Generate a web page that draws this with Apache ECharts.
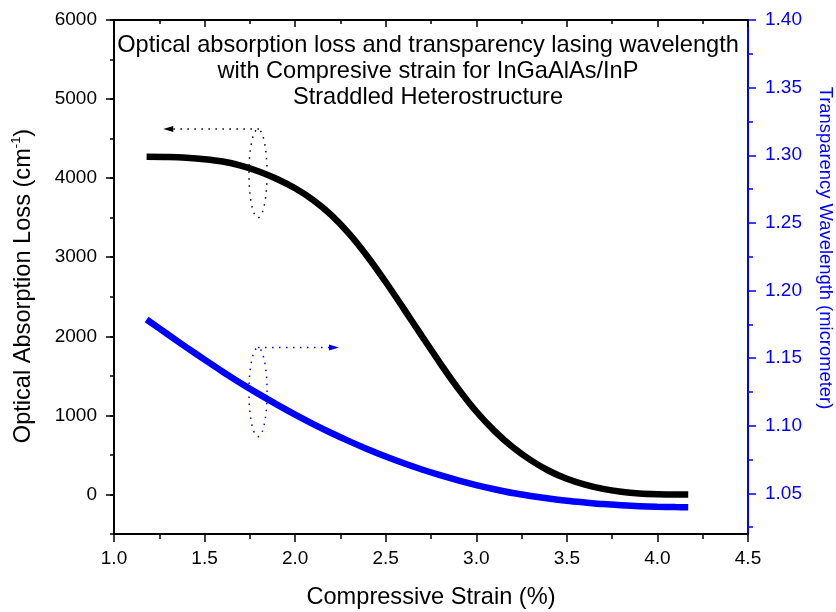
<!DOCTYPE html>
<html><head><meta charset="utf-8">
<script src="https://cdn.jsdelivr.net/npm/echarts@6/dist/echarts.min.js"></script>
<style>html,body{margin:0;padding:0;background:#fff}#c{width:836px;height:612px}</style>
</head><body><div id="c"></div>
<script>
// ---- data ----
const strain = [1.18,1.3,1.4,1.5,1.6,1.7,1.8,1.9,2.0,2.1,2.2,2.3,2.4,2.5,2.6,2.7,2.8,2.9,3.0,3.1,3.2,3.3,3.4,3.5,3.6,3.7,3.8,3.9,4.0,4.1,4.17];
const absorptionLoss = [4270,4267,4258,4240,4210,4158,4085,3990,3872,3722,3532,3292,3007,2687,2347,2002,1662,1339,1049,804,599,434,300,198,124,70,34,12,3,0,0];
const transparencyWavelength = [1.1786,1.1673,1.1580,1.1489,1.1400,1.1315,1.1234,1.1157,1.1083,1.1013,1.0947,1.0885,1.0827,1.0773,1.0723,1.0677,1.0635,1.0597,1.0562,1.0531,1.0503,1.0481,1.0462,1.0446,1.0433,1.0421,1.0412,1.0405,1.0401,1.0399,1.0398];
const leftTicks = [0,1000,2000,3000,4000,5000,6000];
const rightTicks = [1.05,1.10,1.15,1.20,1.25,1.30,1.35,1.40];
const rightMinorTicks = [1.025,1.075,1.125,1.175,1.225,1.275,1.325,1.375];
const titleLines = ['Optical absorption loss and transparency lasing wavelength','with Compresive strain for InGaAlAs/InP','Straddled Heterostructure'];
const xName = 'Compressive Strain (%)';
const leftName = '{a|Optical Absorption Loss (cm}{s|-1}{a|)}';
const rightName = 'Transparency Wavelength (micrometer)';
// annotation marks in data coordinates
const lossArrow = [[1.80,4622],[1.272,4622]];
const lossLoop = {center:[1.795,4060], radius:[0.05,560]};
const waveArrow = [[1.795,1.1578],[2.242,1.1578]];
const waveLoop = {center:[1.795,1.1249], radius:[0.05,0.0329]};

const FF = '"Liberation Sans", Arial, sans-serif';
const BLUE = '#0000ff';
const chart = echarts.init(document.getElementById('c'), null, {renderer:'canvas'});

const option = {
  animation:false,
  backgroundColor:'#fff',
  textStyle:{fontFamily:FF},
  title:{text:titleLines.join('\n'), left:428, top:32, padding:0, textAlign:'center',
    textStyle:{fontSize:23.6, fontWeight:'normal', color:'#000', fontFamily:FF, lineHeight:26}},
  grid:{left:114, right:88, top:20, bottom:78, containLabel:false, outerBoundsMode:'none'},
  xAxis:[
    {type:'value', position:'bottom', min:1, max:4.5, interval:0.5,
     name:xName, nameLocation:'middle', nameGap:51, nameMoveOverlap:false,
     nameTextStyle:{fontSize:23.6, color:'#000', fontFamily:FF},
     axisLine:{show:true, onZero:false, lineStyle:{color:'#000', width:2}},
     axisTick:{show:true, inside:false, length:8, lineStyle:{color:'#000', width:1.5}},
     minorTick:{show:true, splitNumber:2, length:5, lineStyle:{color:'#000', width:1.5}},
     axisLabel:{show:true, fontSize:19, color:'#000', margin:15, fontFamily:FF, formatter:v=>v.toFixed(1)},
     splitLine:{show:false}, minorSplitLine:{show:false}},
    {type:'value', position:'top', min:1, max:4.5, interval:0.5,
     axisLine:{show:true, onZero:false, lineStyle:{color:'#000', width:2}},
     axisTick:{show:true, inside:true, length:7, lineStyle:{color:'#000', width:1.5}},
     minorTick:{show:true, splitNumber:2, length:4, lineStyle:{color:'#000', width:1.5}},
     axisLabel:{show:false}, splitLine:{show:false}}
  ],
  yAxis:[
    {type:'value', position:'left', min:-500, max:6000,
     name:leftName, nameLocation:'middle', nameGap:78, nameMoveOverlap:false,
     nameTextStyle:{fontSize:23.6, color:'#000', fontFamily:FF, padding:[0,18,0,0],
       rich:{a:{fontSize:23.6, color:'#000', fontFamily:FF, lineHeight:26},
             s:{fontSize:13, color:'#000', fontFamily:FF, lineHeight:12, verticalAlign:'top'}}},
     axisLine:{show:true, onZero:false, lineStyle:{color:'#000', width:2}},
     axisTick:{show:true, inside:false, length:8, customValues:leftTicks, lineStyle:{color:'#000', width:1.5}},
     axisLabel:{show:true, fontSize:19, color:'#000', margin:17, fontFamily:FF, customValues:leftTicks, formatter:v=>String(v)},
     splitLine:{show:false}},
    {type:'value', position:'right', min:1.02, max:1.40,
     name:rightName, nameLocation:'middle', nameGap:68, nameRotate:-90, nameMoveOverlap:false,
     nameTextStyle:{fontSize:18.4, color:BLUE, fontFamily:FF, padding:[0,58,0,0]},
     axisLine:{show:true, onZero:false, lineStyle:{color:BLUE, width:2}},
     axisTick:{show:true, inside:false, length:8, customValues:rightTicks, lineStyle:{color:BLUE, width:1.5}},
     axisLabel:{show:true, fontSize:19, color:BLUE, margin:17, fontFamily:FF, customValues:rightTicks, formatter:v=>v.toFixed(2)},
     splitLine:{show:false}},
    {type:'value', position:'left', min:-500, max:6000, interval:500,
     axisLine:{show:false}, axisLabel:{show:false}, splitLine:{show:false},
     axisTick:{show:true, inside:false, length:4, lineStyle:{color:'#000', width:1.5}}},
    {type:'value', position:'right', min:1.02, max:1.40,
     axisLine:{show:false}, axisLabel:{show:false}, splitLine:{show:false},
     axisTick:{show:true, inside:false, length:5, customValues:rightMinorTicks, lineStyle:{color:BLUE, width:1.5}}}
  ],
  series:[
    {type:'line', name:'loss', xAxisIndex:0, yAxisIndex:0, showSymbol:false, smooth:0.3, silent:true,
     data:strain.map((x,i)=>[x,absorptionLoss[i]]), lineStyle:{color:'#000', width:6.5}},
    {type:'line', name:'wavelength', xAxisIndex:0, yAxisIndex:1, showSymbol:false, smooth:0.3, silent:true,
     data:strain.map((x,i)=>[x,transparencyWavelength[i]]), lineStyle:{color:BLUE, width:6.5}}
  ]
};
chart.setOption(option);

function toPx(pt, yIdx){ return chart.convertToPixel({xAxisIndex:0, yAxisIndex:yIdx}, pt); }
function loopShape(loop, yIdx, color){
  const pts = [];
  for (let k=0; k<72; k++){
    const t = k/72*2*Math.PI;
    pts.push(toPx([loop.center[0]+loop.radius[0]*Math.cos(t), loop.center[1]+loop.radius[1]*Math.sin(t)], yIdx));
  }
  return {type:'polygon', silent:true, z:10, shape:{points:pts},
    style:{fill:null, stroke:color, lineWidth:1.5, lineDash:[1.5,5.5]}};
}
function arrowShapes(arrow, yIdx, color){
  const a = toPx(arrow[0], yIdx), b = toPx(arrow[1], yIdx);
  const dx = b[0]-a[0], dy = b[1]-a[1], L = Math.hypot(dx,dy);
  const ux = dx/L, uy = dy/L, hl = 10, hw = 3;
  const base = [b[0]-ux*hl, b[1]-uy*hl];
  return [
    {type:'line', silent:true, z:10, shape:{x1:a[0], y1:a[1], x2:base[0], y2:base[1]},
      style:{stroke:color, lineWidth:1.5, lineDash:[1.5,5.5]}},
    {type:'polygon', silent:true, z:10, shape:{points:[b,[base[0]-uy*hw, base[1]+ux*hw],[base[0]+uy*hw, base[1]-ux*hw]]},
      style:{fill:color, stroke:null}}
  ];
}
chart.setOption({graphic:[
  loopShape(lossLoop,0,'#000'), ...arrowShapes(lossArrow,0,'#000'),
  loopShape(waveLoop,1,BLUE), ...arrowShapes(waveArrow,1,BLUE)
]});
</script></body></html>
